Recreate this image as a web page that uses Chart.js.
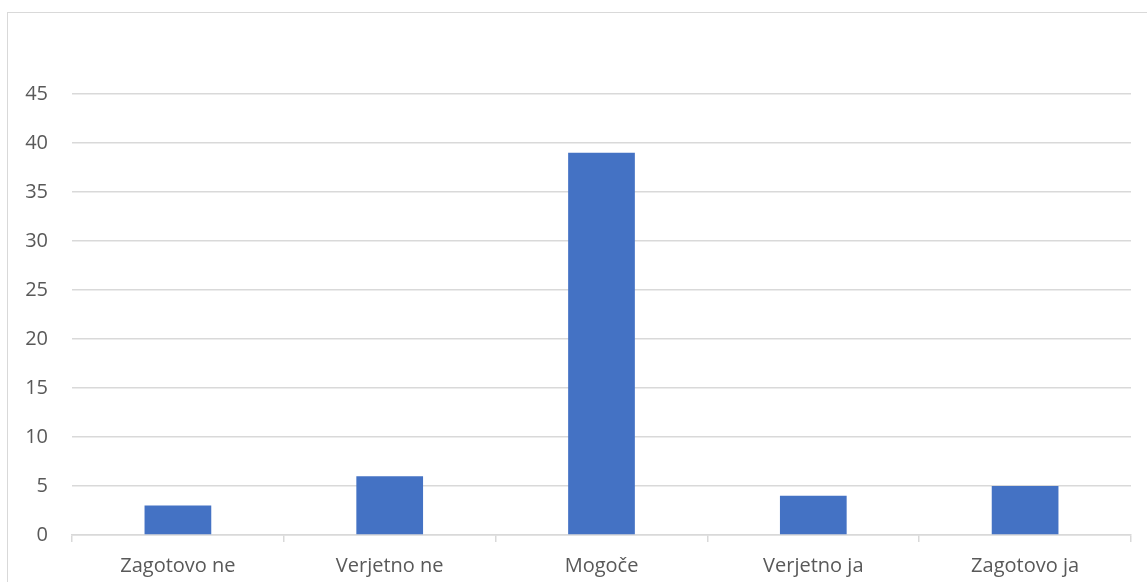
<!DOCTYPE html>
<html>
<head>
<meta charset="utf-8">
<script src="https://cdn.jsdelivr.net/npm/chart.js@4/dist/chart.umd.min.js"></script>
<style>
  html, body { margin: 0; padding: 0; background: #fff; }
  #wrap { position: relative; width: 1147px; height: 582px; overflow: hidden; }
  #frame { position: absolute; left: 7px; top: 12px; width: 1200px; height: 600px;
           border-left: 1px solid #d9d9d9; border-top: 1px solid #d9d9d9; }
  canvas { position: absolute; left: 0; top: 0; }
</style>
</head>
<body>
<div id="wrap">
  <div id="frame"></div>
  <canvas id="chart" width="1147" height="582"></canvas>
</div>
<script>
// Podatki
const categories = ['Zagotovo ne', 'Verjetno ne', 'Mogoče', 'Verjetno ja', 'Zagotovo ja'];
const values = [3, 6, 39, 4, 5];
const yTicks = [0, 5, 10, 15, 20, 25, 30, 35, 40, 45];

const textColor = '#595959';
const gridColor = '#d9d9d9';
const fontFamily = "'Open Sans', 'Liberation Sans', sans-serif";

const ctx = document.getElementById('chart').getContext('2d');
new Chart(ctx, {
    type: 'bar',
    data: {
        labels: categories,
        datasets: [{
            data: values,
            backgroundColor: '#4472C4',
            borderWidth: 0,
            categoryPercentage: 1,
            barPercentage: 0.315
        }]
    },
    options: {
        responsive: false,
        animation: false,
        layout: { padding: { top: 94, right: 16, left: 0, bottom: 0 } },
        plugins: { legend: { display: false }, tooltip: { enabled: false } },
        scales: {
            y: {
                min: 0, max: 45,
                afterBuildTicks: (scale) => { scale.ticks = yTicks.map(v => ({ value: v })); },
                afterFit: (scale) => { scale.width = 72; },
                border: { display: false },
                grid: { color: gridColor, lineWidth: 1.5, drawTicks: false },
                ticks: { color: textColor, padding: 24, font: { family: fontFamily, size: 20 } }
            },
            x: {
                afterFit: (scale) => { scale.height = 47; },
                border: { display: true, color: gridColor, width: 1.5 },
                grid: { drawOnChartArea: false, drawTicks: true, tickLength: 7, color: gridColor, lineWidth: 1.5 },
                ticks: { color: textColor, padding: 12, font: { family: fontFamily, size: 20 } }
            }
        }
    }
});
</script>
</body>
</html>
